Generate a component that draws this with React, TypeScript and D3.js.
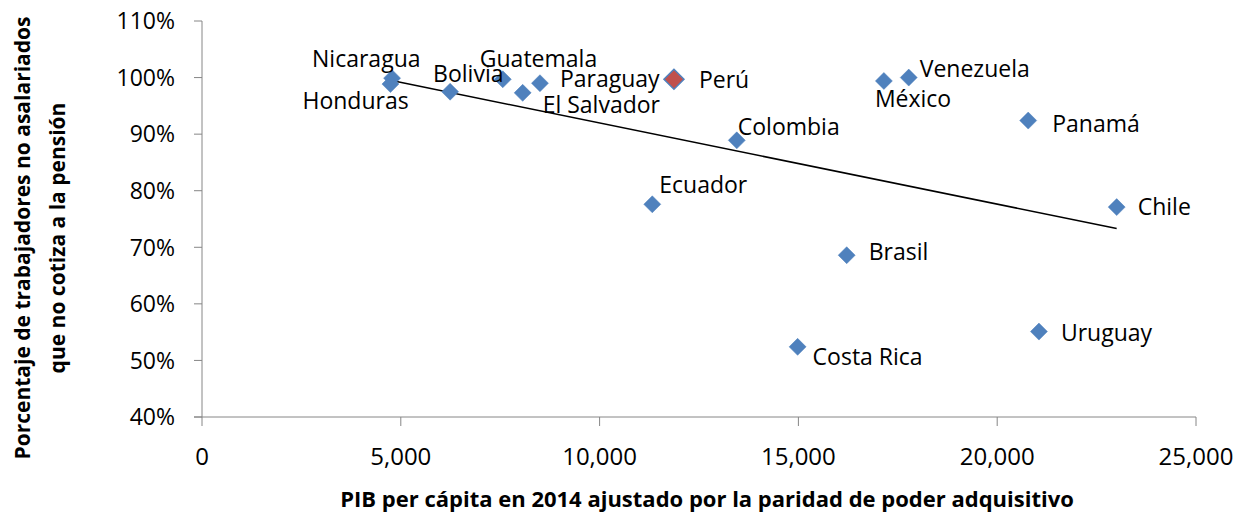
import React from "react";
import * as d3 from "d3";

const countries = ["Nicaragua", "Honduras", "Bolivia", "Guatemala", "El Salvador", "Paraguay", "Perú", "Colombia", "México", "Venezuela", "Panamá", "Chile", "Ecuador", "Brasil", "Costa Rica", "Uruguay"];
const gdpPPP = [4780, 4740, 6240, 7565, 8065, 8500, 11870, 13450, 17150, 17775, 20780, 23005, 11325, 16215, 14980, 21050];
const noPension = [99.9, 98.85, 97.5, 99.7, 97.3, 99.0, 99.7, 88.9, 99.4, 100.0, 92.4, 77.1, 77.6, 68.6, 52.4, 55.1];
const highlighted = ["Perú"];

const xTicks = [0, 5000, 10000, 15000, 20000, 25000];
const yTicks = [40, 50, 60, 70, 80, 90, 100, 110];

// label placement relative to each point (layout only)
const labelOffsets: Record<string, [number, number]> = {
  Nicaragua: [-80, -11],
  Honduras: [-88, 25],
  Bolivia: [-17, -10],
  Guatemala: [-23, -12],
  "El Salvador": [20, 20],
  Paraguay: [20, 4],
  "Perú": [25, 9],
  Colombia: [1, -5],
  "México": [-9, 26],
  Venezuela: [11, -1],
  "Panamá": [24, 11],
  Chile: [21, 8],
  Ecuador: [7, -11],
  Brasil: [22, 5],
  "Costa Rica": [15, 18],
  Uruguay: [22, 9],
};

const W = 1247;
const H = 515;
const FONT = "'Open Sans', 'Noto Sans', sans-serif";

export default function App() {
  const x = d3.scaleLinear().domain([0, 25000]).range([202, 1196]);
  const y = d3.scaleLinear().domain([40, 110]).range([417, 21]);
  const fmt = d3.format(",");

  const pts = countries.map((c, i) => ({ c, gx: gdpPPP[i], v: noPension[i] }));
  const mx = d3.mean(pts, (p) => p.gx)!;
  const my = d3.mean(pts, (p) => p.v)!;
  const slope =
    d3.sum(pts, (p) => (p.gx - mx) * (p.v - my)) / d3.sum(pts, (p) => (p.gx - mx) ** 2);
  const [xmin, xmax] = d3.extent(pts, (p) => p.gx) as [number, number];
  const trend = d3.line<number>().x((d) => x(d)).y((d) => y(my + slope * (d - mx)));

  const diamond = (cx: number, cy: number, r: number) =>
    `M${cx},${cy - r}L${cx + r},${cy}L${cx},${cy + r}L${cx - r},${cy}Z`;

  const axisColor = "#868686";
  const x0 = x(0);
  const y0 = y(40);

  return (
    <svg width={W} height={H} style={{ position: "absolute", left: 0, top: 0, background: "#fff" }} fontFamily={FONT}>
      {/* axes */}
      <line x1={x0} x2={x0} y1={y(110)} y2={y0} stroke={axisColor} strokeWidth={1} />
      <line x1={x0 - 8} x2={x(25000)} y1={y0} y2={y0} stroke={axisColor} strokeWidth={1} />
      {yTicks.map((t) => (
        <g key={"y" + t}>
          <line x1={x0 - 8} x2={x0} y1={y(t)} y2={y(t)} stroke={axisColor} />
          <text x={x0 - 27} y={y(t)} dy="0.36em" textAnchor="end" fontSize={23} fill="#000">
            {t}%
          </text>
        </g>
      ))}
      {xTicks.map((t) => (
        <g key={"x" + t}>
          <line x1={x(t)} x2={x(t)} y1={y0} y2={y0 + 9} stroke={axisColor} />
          <text x={x(t)} y={465} textAnchor="middle" fontSize={24} fill="#000">
            {fmt(t)}
          </text>
        </g>
      ))}

      {/* trend line */}
      <path d={trend([xmin, xmax])!} stroke="#000" strokeWidth={1.5} fill="none" />

      {/* points */}
      {pts.map((p) => {
        const hi = highlighted.includes(p.c);
        return (
          <path
            key={p.c}
            d={diamond(x(p.gx), y(p.v), hi ? 10 : 8.5)}
            fill={hi ? "#C0504D" : "#4F81BD"}
            stroke="#4F81BD"
            strokeWidth={hi ? 1.5 : 0.5}
          />
        );
      })}

      {/* labels */}
      {pts.map((p) => {
        const [dx, dy] = labelOffsets[p.c];
        return (
          <text key={"l" + p.c} x={x(p.gx) + dx} y={y(p.v) + dy} fontSize={23} fill="#000">
            {p.c}
          </text>
        );
      })}

      {/* axis titles */}
      <text x={707} y={507} textAnchor="middle" fontSize={22} fontWeight="bold" fill="#000">
        PIB per cápita en 2014 ajustado por la paridad de poder adquisitivo
      </text>
      <g transform="translate(30,238) rotate(-90)">
        <text x={0} y={0} textAnchor="middle" fontSize={21} fontWeight="bold" fill="#000">
          Porcentaje de trabajadores no asalariados
        </text>
        <text x={0} y={35} textAnchor="middle" fontSize={21} fontWeight="bold" fill="#000">
          que no cotiza a la pensión
        </text>
      </g>
    </svg>
  );
}
